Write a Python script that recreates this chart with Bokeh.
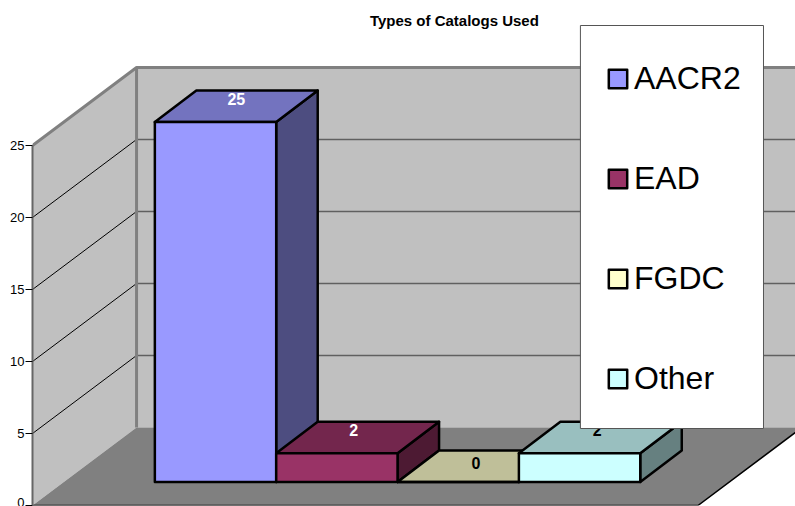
from bokeh.plotting import figure
from bokeh.models import Legend, LegendItem, FixedTicker, LinearAxis
from bokeh.core.properties import value
from bokeh.embed import file_html
from bokeh.resources import INLINE

# ---- data ----
title_text = "Types of Catalogs Used"
categories = ["AACR2", "EAD", "FGDC", "Other"]
counts = [25, 2, 0, 2]
y_ticks = [0, 5, 10, 15, 20, 25]
front_colors = ["#9999FF", "#993366", "#FFFFCC", "#CCFFFF"]
top_colors = ["#7373BF", "#73264D", "#BFBF99", "#99BFBF"]
side_colors = ["#4D4D80", "#4D1A33", "#80806A", "#668080"]
label_colors = ["white", "white", "black", "black"]

# ---- layout ----
W, H = 795, 506
LEFT, BOTTOM_PX = 32.3, 505
FRAME_LEFT = 32
PX_Y = 14.4            # pixels per count
PX_X = 121.3           # pixels per bar slot
BAR0_PX = 154.6        # left of first bar
xs = lambda px: (px - BAR0_PX) / PX_X
ys = lambda px: (BOTTOM_PX - px) / PX_Y

p = figure(width=W, height=H, output_backend="svg", toolbar_location=None,
           x_range=(xs(FRAME_LEFT + 0.3), xs(W)), y_range=(0, ys(0)),
           min_border_left=FRAME_LEFT, min_border_right=0, min_border_top=0,
           min_border_bottom=H - BOTTOM_PX, x_axis_location=None, y_axis_location=None,
           background_fill_color="white", border_fill_color="white",
           outline_line_color=None, tools="")
p.styles = {"position": "absolute", "left": "0", "top": "0"}
p.grid.visible = False

axis = LinearAxis(ticker=FixedTicker(ticks=y_ticks), bounds=(0, max(y_ticks)),
                  axis_line_color="#666666", axis_line_width=2,
                  major_tick_line_color="black", major_tick_line_width=1,
                  major_tick_in=0, major_tick_out=7, minor_tick_line_color=None,
                  major_label_text_font="Liberation Sans",
                  major_label_text_font_size="13px",
                  major_label_text_color="black", major_label_standoff=1)
p.add_layout(axis, "left")

# walls and floor
wall_dx, wall_dy = 104 / PX_X, 78 / PX_Y
x0, x1 = xs(LEFT), xs(697.5)
ymax = max(y_ticks)
wall_fill = "#C0C0C0"
p.patch([x0 + wall_dx, x1 + wall_dx, x1 + wall_dx, x0 + wall_dx],
        [wall_dy, wall_dy, ymax + wall_dy, ymax + wall_dy], fill_color=wall_fill, line_color=None)
p.patch([x0, x0 + wall_dx, x0 + wall_dx, x0], [0, wall_dy, ymax + wall_dy, ymax],
        fill_color=wall_fill, line_color=None)
p.patch([x0, x1, x1 + wall_dx, x0 + wall_dx], [0, 0, wall_dy, wall_dy],
        fill_color="#808080", line_color=None)

# gridlines
grid = [t for t in y_ticks if 0 < t < ymax]
p.segment([x0] * len(grid), grid, [x0 + wall_dx] * len(grid), [t + wall_dy for t in grid],
          line_color="black", line_width=1)
p.segment([x0 + wall_dx] * len(grid), [t + wall_dy for t in grid],
          [x1 + wall_dx] * len(grid), [t + wall_dy for t in grid],
          line_color="#606060", line_width=1.5)
# wall edges
p.line([x0, x0 + wall_dx, x1 + wall_dx], [ymax, ymax + wall_dy, ymax + wall_dy],
       line_color="#808080", line_width=3)
p.line([x0 + wall_dx, x0 + wall_dx], [wall_dy, ymax + wall_dy], line_color="#808080", line_width=3)
# floor front edges
p.line([x0, x1, x1 + wall_dx], [0, 0, wall_dy], line_color="black", line_width=1.5)

# bars
base_y = ys(481.5)
bar_dx, bar_dy = 41.5 / PX_X, 31.5 / PX_Y
edge = dict(line_color="black", line_width=2.5, line_join="round")
fronts = []
for i, (c, v) in enumerate(zip(categories, counts)):
    l, r = i, i + 1
    t = base_y + v
    p.patch([r, r + bar_dx, r + bar_dx, r], [base_y, base_y + bar_dy, t + bar_dy, t],
            fill_color=side_colors[i], **edge)
    p.patch([l, r, r + bar_dx, l + bar_dx], [t, t, t + bar_dy, t + bar_dy],
            fill_color=top_colors[i], **edge)
    fronts.append(p.quad(left=[l], right=[r], bottom=[base_y], top=[t],
                         fill_color=front_colors[i], **edge))

# data labels
label_nudge_px = [0, -4, -3, -3]
label_x = [i + 0.5 + bar_dx / 2 + n / PX_X for i, n in enumerate(label_nudge_px)]
label_lift = [23 / PX_Y if v else 19.5 / PX_Y for v in counts]
label_y = [base_y + v + d for v, d in zip(counts, label_lift)]
p.text(label_x, label_y, text=[str(v) for v in counts], text_color=label_colors,
       text_font=value("Liberation Sans"), text_font_style="bold", text_font_size="16px",
       text_align="center", text_baseline="middle")

# title
p.text([xs(454)], [ys(19.5)], text=[title_text], text_color="black",
       text_font=value("Liberation Sans"), text_font_style="bold", text_font_size="15px",
       text_align="center", text_baseline="middle")

# legend box
p.quad(left=[xs(580)], right=[xs(763)], bottom=[ys(428)], top=[ys(25)],
       fill_color="white", line_color="#555555", line_width=1)
legend = Legend(items=[LegendItem(label=c, renderers=[r]) for c, r in zip(categories, fronts)],
                location=(606 - FRAME_LEFT, BOTTOM_PX - 397), orientation="vertical",
                background_fill_alpha=0, border_line_color=None, margin=0, padding=0,
                glyph_width=23, glyph_height=23, label_standoff=5, spacing=63,
                label_text_font="Liberation Sans", label_text_font_size="32px",
                label_text_color="black")
p.add_layout(legend, "center")

open("out.html", "w").write(file_html(p, INLINE))
